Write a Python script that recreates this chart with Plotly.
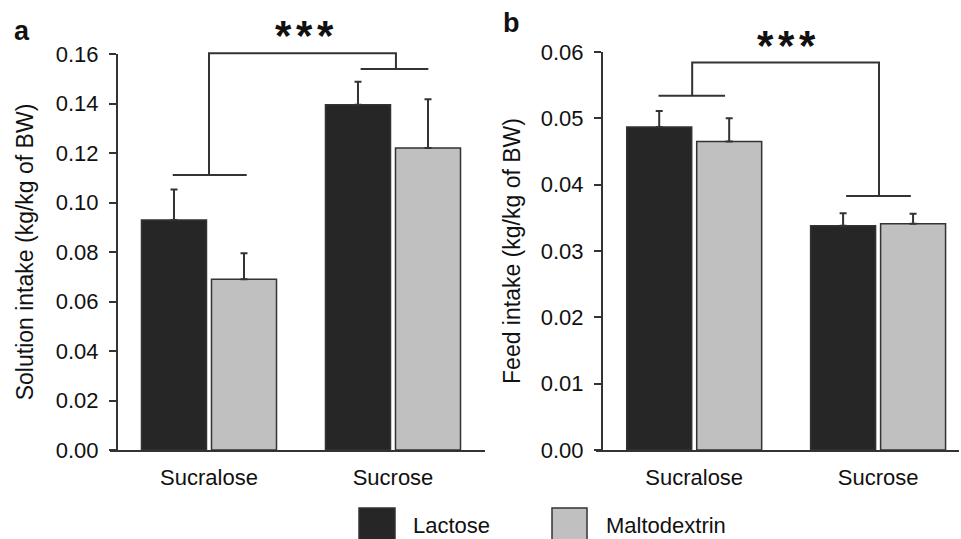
import plotly.graph_objects as go

# ---------------- data ----------------
categories = ["Sucralose", "Sucrose"]
series_names = ["Lactose", "Maltodextrin"]

solution_lactose = [0.0929, 0.1395]
solution_lactose_err = [0.0124, 0.0093]
solution_malto = [0.0690, 0.1220]
solution_malto_err = [0.0105, 0.0197]

feed_lactose = [0.0487, 0.0338]
feed_lactose_err = [0.0024, 0.0019]
feed_malto = [0.0465, 0.0341]
feed_malto_err = [0.0035, 0.0015]

solution_ticks = [0.00, 0.02, 0.04, 0.06, 0.08, 0.10, 0.12, 0.14, 0.16]
feed_ticks = [0.00, 0.01, 0.02, 0.03, 0.04, 0.05, 0.06]

# ---------------- style ----------------
FONT = "Liberation Sans, Arial, sans-serif"
TXT = "#111111"
LINE = "#333333"
DARK = "#262626"
LIGHT = "#c0c0c0"
W, H = 961, 539


def px_x(p):
    return p / W


def px_y(p):
    return 1 - p / H


XR_A = [-0.538, 1.5]
YR_A = [0, 0.16]
XR_B = [-0.534, 1.44]
YR_B = [0, 0.06]

fig = go.Figure()


def add_bars(xa, ya, lac, lac_e, mal, mal_e):
    for name, vals, errs, col in [(series_names[0], lac, lac_e, DARK),
                                  (series_names[1], mal, mal_e, LIGHT)]:
        fig.add_trace(go.Bar(
            x=categories, y=vals, name=name, xaxis=xa, yaxis=ya,
            marker=dict(color=col, line=dict(color=LINE, width=1.5)),
            error_y=dict(type="data", symmetric=False, array=errs,
                         arrayminus=[0] * len(errs), color=LINE,
                         thickness=2, width=3.5),
            showlegend=False,
        ))


add_bars("x", "y", solution_lactose, solution_lactose_err,
         solution_malto, solution_malto_err)
add_bars("x2", "y2", feed_lactose, feed_lactose_err,
         feed_malto, feed_malto_err)

# significance brackets (annotation geometry in category/value units)
brackets_a = [
    ([-0.197, 0.205], [0.1111, 0.1111]),
    ([0, 0, 1.016, 1.016], [0.1111, 0.1603, 0.1603, 0.1539]),
    ([0.824, 1.192], [0.1539, 0.1539]),
]
brackets_b = [
    ([-0.194, 0.168], [0.0534, 0.0534]),
    ([-0.011, -0.011, 1.005, 1.005], [0.0534, 0.0584, 0.0584, 0.0383]),
    ([0.826, 1.178], [0.0383, 0.0383]),
]


def add_brackets(segs, xr, yr, xref, yref):
    for xs, ys in segs:
        pts = [((x - xr[0]) / (xr[1] - xr[0]), (y - yr[0]) / (yr[1] - yr[0]))
               for x, y in zip(xs, ys)]
        path = "M " + " L ".join(f"{px},{py}" for px, py in pts)
        fig.add_shape(type="path", path=path, xref=xref, yref=yref,
                      line=dict(color=LINE, width=2))


add_brackets(brackets_a, XR_A, YR_A, "x domain", "y domain")
add_brackets(brackets_b, XR_B, YR_B, "x2 domain", "y2 domain")

fig.update_layout(
    width=W, height=H,
    margin=dict(l=0, r=0, t=0, b=0),
    paper_bgcolor="white", plot_bgcolor="white",
    barmode="group", bargap=0.239, bargroupgap=0.0714,
    font=dict(family=FONT, size=22, color=TXT),
    showlegend=False,
)

common_x = dict(type="category", showline=True, linecolor=LINE, linewidth=2,
                ticks="", showgrid=False, zeroline=False, automargin=False,
                tickfont=dict(family=FONT, size=22, color=TXT),
                ticklabelstandoff=7)
common_y = dict(showline=True, linecolor=LINE, linewidth=2, ticks="outside",
                ticklen=7, tickwidth=2, tickcolor=LINE, showgrid=False,
                zeroline=False, tickformat=".2f", automargin=False,
                tickfont=dict(family=FONT, size=22, color=TXT),
                ticklabelstandoff=6)

fig.update_layout(
    xaxis=dict(common_x, domain=[px_x(110), px_x(485)], range=XR_A,
               anchor="y"),
    yaxis=dict(common_y, domain=[px_y(450), px_y(54)], range=YR_A,
               tickvals=solution_ticks, anchor="free", position=px_x(117),
               title=dict(text="Solution intake (kg/kg of BW)",
                          font=dict(family=FONT, size=23, color=TXT),
                          standoff=15)),
    xaxis2=dict(common_x, domain=[px_x(596), px_x(959)], range=XR_B,
                anchor="y2"),
    yaxis2=dict(common_y, domain=[px_y(450), px_y(52)], range=YR_B,
                tickvals=feed_ticks, anchor="free", position=px_x(602),
                title=dict(text="Feed intake (kg/kg of BW)",
                           font=dict(family=FONT, size=23, color=TXT),
                           standoff=13)),
)

# significance stars
for sx, sy in [(283.5, 35), (304.5, 35), (325.5, 35),
               (765, 45), (786, 45), (807, 45)]:
    fig.add_annotation(x=px_x(sx), y=px_y(sy), xref="paper", yref="paper",
                       text="<b>*</b>", showarrow=False,
                       xanchor="center", yanchor="middle",
                       font=dict(family=FONT, size=42, color=TXT))

# panel letters
fig.add_annotation(x=px_x(12), y=px_y(48), xref="paper", yref="paper",
                   text="<b>a</b>", showarrow=False, xanchor="left",
                   yanchor="bottom", font=dict(family=FONT, size=27, color=TXT))
fig.add_annotation(x=px_x(501), y=px_y(40), xref="paper", yref="paper",
                   text="<b>b</b>", showarrow=False, xanchor="left",
                   yanchor="bottom", font=dict(family=FONT, size=27, color=TXT))

# manual legend
legend_items = [(series_names[0], DARK, 359, 395, 411),
                (series_names[1], LIGHT, 552, 587, 604)]
for name, col, x0, x1, tx in legend_items:
    fig.add_shape(type="rect", xref="paper", yref="paper",
                  x0=px_x(x0), x1=px_x(x1), y0=px_y(508), y1=px_y(541),
                  fillcolor=col, line=dict(color=LINE, width=1.5))
    fig.add_annotation(x=px_x(tx), y=px_y(525), xref="paper", yref="paper",
                       text=name, showarrow=False, xanchor="left",
                       yanchor="middle",
                       font=dict(family=FONT, size=22, color=TXT))

fig.write_html(
    "out.html",
    config={"displayModeBar": False},
    post_script="document.body.style.margin='0';"
                "document.body.style.overflow='hidden';",
)
